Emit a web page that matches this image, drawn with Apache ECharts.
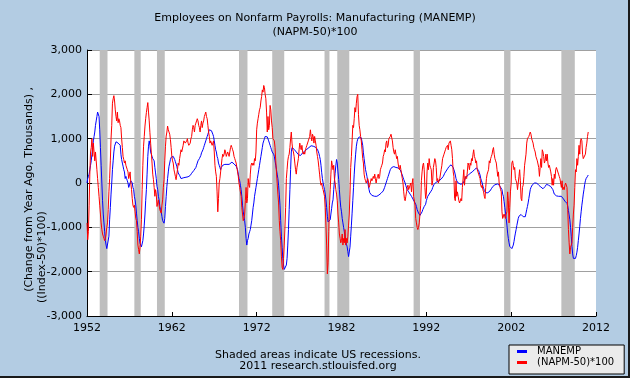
<!DOCTYPE html>
<html>
<head>
<meta charset="utf-8">
<script src="https://cdn.jsdelivr.net/npm/echarts@6/dist/echarts.min.js"></script>
<style>
html,body{margin:0;padding:0;background:#B3CCE3;}
#chart{width:630px;height:378px;}
</style>
</head>
<body>
<div id="chart"></div>
<script>
// ---- DATA ----
var startYear = 1952;
var xTickLabels = ['1952','1962','1972','1982','1992','2002','2012'];
var seriesNames = ['MANEMP', '(NAPM-50)*100'];

// MANEMP: change from year ago, thousands (monthly from Jan 1952)
var manemp = [
 0,100,150,200,300,400,500,650,800,950,1050,1150,
 1300,1400,1500,1600,1620,1500,1200,800,400,0,-400,-700,
 -900,-1100,-1300,-1400,-1480,-1500,-1450,-1200,-830,-550,-250,0,
 300,500,700,830,880,930,950,920,900,900,880,850,
 650,530,450,380,300,250,100,150,100,50,0,-100,
 -100,0,50,75,0,-100,-150,-300,-380,-500,-680,-850,
 -1000,-1100,-1250,-1360,-1400,-1440,-1400,-1300,-1150,-950,-700,-400,
 -150,200,600,830,950,850,700,650,600,550,530,500,
 350,227,100,-75,-150,-300,-380,-530,-600,-650,-756,-850,
 -880,-907,-800,-530,-300,-75,100,250,378,450,530,580,
 605,620,600,560,530,480,430,380,300,227,200,170,
 150,100,100,100,100,120,150,150,130,120,130,140,
 130,150,170,200,220,250,250,280,250,300,350,400,
 450,500,520,550,580,620,680,720,750,800,850,900,
 950,1000,1050,1100,1150,1200,1230,1200,1180,1150,1100,1050,
 950,850,750,700,600,550,450,400,350,300,350,350,
 400,420,400,420,430,400,420,410,400,420,430,450,
 450,470,460,450,430,420,400,380,360,300,200,100,
 50,-50,-150,-300,-500,-650,-750,-850,-1000,-1250,-1400,-1300,
 -1250,-1150,-1100,-1050,-950,-850,-700,-550,-450,-300,-200,-100,
 0,100,200,300,400,500,600,700,800,900,950,1000,
 1050,1080,1050,1040,1000,950,900,850,800,750,700,680,
 650,600,500,400,300,200,100,-50,-250,-500,-850,-1200,
 -1450,-1700,-1850,-1950,-1970,-1950,-1850,-1700,-1400,-1050,-600,-150,
 300,700,800,800,780,760,740,720,700,680,660,640,
 620,600,620,640,660,680,690,700,720,740,750,760,
 770,790,800,820,830,840,840,840,830,830,820,810,
 800,790,760,720,670,600,530,400,230,100,0,-80,
 -150,-250,-380,-550,-750,-880,-910,-900,-830,-700,-580,-450,
 -380,-150,50,220,400,530,450,250,80,-150,-380,-550,
 -650,-800,-900,-1000,-1100,-1200,-1300,-1380,-1440,-1550,-1660,-1620,
 -1450,-1200,-950,-680,-400,-100,200,450,650,830,930,990,
 1020,1040,1050,1040,1020,980,850,680,550,420,300,230,
 150,50,-70,-150,-220,-240,-260,-280,-290,-300,-300,-300,
 -300,-310,-300,-290,-280,-270,-260,-240,-230,-220,-200,-180,
 -150,-100,-50,0,50,100,150,200,250,300,330,350,
 360,360,370,360,360,350,360,350,340,340,330,300,
 270,220,180,130,80,40,0,-60,-100,-150,-180,-200,
 -220,-250,-270,-300,-330,-360,-390,-420,-450,-480,-530,-600,
 -600,-680,-720,-730,-720,-700,-650,-600,-560,-530,-500,-480,
 -400,-350,-300,-270,-250,-220,-200,-180,-150,-100,-60,-30,
 -20,0,20,30,40,40,50,60,70,90,100,120,
 150,180,220,250,270,300,320,350,370,390,400,410,
 420,400,350,300,250,180,100,50,20,0,-20,-40,
 -40,-30,-20,-10,0,30,60,100,140,150,160,170,
 180,200,220,230,240,250,260,280,300,320,330,340,
 340,320,280,230,180,100,50,0,-70,-120,-170,-200,
 -220,-230,-230,-220,-210,-190,-180,-160,-130,-100,-80,-70,
 -60,-40,-20,0,0,-20,-40,-60,-70,-80,-110,-150,
 -250,-300,-420,-550,-680,-800,-950,-1130,-1250,-1350,-1430,-1460,
 -1470,-1480,-1450,-1400,-1320,-1220,-1130,-1050,-960,-880,-800,-750,
 -730,-720,-710,-715,-730,-760,-780,-790,-760,-680,-600,-530,
 -450,-350,-250,-150,-100,-60,-40,-20,-15,0,10,10,
 0,-10,-30,-50,-60,-70,-90,-100,-120,-130,-120,-110,
 -80,-50,-30,-30,-40,-50,-60,-70,-80,-90,-120,-150,
 -200,-250,-270,-280,-290,-300,-300,-300,-300,-300,-300,-300,
 -300,-330,-360,-390,-410,-430,-450,-460,-520,-620,-720,-830,
 -1000,-1200,-1430,-1600,-1700,-1740,-1740,-1700,-1640,-1560,-1450,-1300,
 -1150,-980,-800,-650,-500,-380,-250,-150,-30,50,100,130,
 150,180
];

// (NAPM-50)*100 (monthly from Jan 1952)
var napm = [
 -900,-1280,-1100,-500,200,700,800,1000,600,900,700,500,
 700,500,300,100,-100,-300,-500,-700,-900,-1050,-1150,-1200,
 -1250,-1300,-1250,-1150,-1000,-900,-600,-200,100,500,1000,1300,
 1800,1900,1970,1850,1650,1500,1400,1600,1360,1450,1400,1300,
 1250,1000,800,600,530,450,500,400,380,300,250,100,
 75,250,0,-150,-350,-500,-550,-500,-650,-800,-850,-1100,
 -1400,-1500,-1600,-1450,-1200,-830,-150,400,830,1050,1285,1450,
 1588,1700,1814,1600,1400,1134,900,680,450,200,75,-100,
 -300,-150,-250,-530,-450,-380,-500,-605,-650,-680,-500,-380,
 -100,75,500,830,1058,1150,1285,1200,1210,1100,980,800,
 605,500,450,300,227,150,75,100,300,450,400,550,
 650,750,700,680,850,950,980,900,900,950,1000,900,
 850,820,900,1000,1050,1200,1300,1250,1150,1300,1350,1400,
 1450,1400,1300,1250,1150,1300,1400,1250,1350,1400,1500,1550,
 1600,1500,1450,1300,1150,1050,900,950,950,850,900,950,
 700,400,250,150,-200,-650,-350,0,100,250,400,550,
 650,600,650,750,700,600,650,700,650,600,700,800,
 850,800,750,700,600,550,500,450,350,250,150,0,
 -100,-200,-300,-550,-700,-850,-800,-700,-400,-100,-450,-350,
 100,-50,-100,200,400,450,400,450,400,550,500,700,
 1200,1350,1450,1550,1650,1700,1850,1950,2100,2050,2200,2150,
 2000,1900,1600,1150,1500,1200,1300,1750,1650,1400,1250,1000,
 1000,950,800,500,250,0,-250,-450,-850,-1100,-1300,-1650,
 -1900,-1950,-1700,-1400,-1000,-550,100,300,500,600,650,800,
 1000,1150,900,750,700,600,450,300,200,350,450,550,
 750,900,800,750,850,700,650,700,650,750,800,850,
 850,950,1000,1050,1200,1050,950,1100,1050,900,1050,950,
 850,700,600,500,350,200,50,-50,0,-100,-150,-150,
 -300,-550,-950,-1400,-2050,-1800,-1100,-500,-150,200,500,400,
 300,400,100,0,-150,-250,-400,-700,-900,-1150,-1250,-1350,
 -1300,-1150,-1400,-1250,-1350,-1050,-1400,-1250,-1350,-1200,-950,-700,
 -250,350,600,950,1300,1250,1450,1700,1600,1800,1950,2000,
 1550,1300,1200,1050,950,750,550,450,200,100,50,0,
 50,100,50,-100,-50,-50,100,50,100,150,100,200,
 100,0,100,150,200,100,150,300,350,400,450,600,
 650,750,700,900,950,800,850,1000,1000,1050,1100,1100,
 950,800,700,650,750,650,550,600,450,350,300,400,
 300,200,100,0,-200,-350,-400,-300,-200,-100,-50,-150,
 -150,-50,0,-200,0,100,-300,-300,-500,-800,-900,-1000,
 -1050,-1000,-900,-700,-500,50,250,400,450,300,-100,-350,
 -250,250,450,300,550,400,350,300,-50,50,350,450,
 550,500,350,50,100,0,50,100,100,300,400,550,
 550,650,700,750,800,800,850,750,900,900,950,850,
 750,550,250,150,-350,-400,50,-300,-200,-300,-400,-450,
 -450,-350,-400,-100,-100,300,-50,150,150,100,250,450,
 400,300,450,400,550,500,650,750,600,550,450,500,
 300,250,200,150,100,-50,-100,-50,-150,-200,-300,-350,
 -100,100,200,250,300,500,450,550,600,650,750,800,
 650,550,500,450,300,150,250,0,0,-150,-200,-650,
 -800,-800,-700,-700,-800,-700,-650,-200,-400,-900,-550,-200,
 0,450,500,400,300,350,100,50,0,-150,-150,150,
 300,50,-350,-400,-100,-50,150,400,400,650,900,1000,
 1000,1050,1100,1150,1100,1000,950,900,800,750,700,600,
 600,500,500,350,150,350,550,350,750,700,600,450,
 500,650,500,650,450,350,400,400,250,150,-50,100,
 -50,200,100,300,350,350,350,200,150,100,0,-100,
 50,-150,-100,-150,-50,0,0,-100,-600,-1050,-1350,-1600,
 -1450,-1450,-1350,-1000,-700,-500,-100,300,250,550,400,600,
 850,650,950,1000,950,650,550,550,550,650,800,900,
 1050,1150
];

// NBER recessions [start 'YYYY-MM', end 'YYYY-MM']
var recessions = [
 ['1953-07','1954-05'], ['1957-08','1958-04'], ['1960-04','1961-02'],
 ['1969-12','1970-11'], ['1973-11','1975-03'], ['1980-01','1980-07'],
 ['1981-07','1982-11'], ['1990-07','1991-03'], ['2001-03','2001-11'],
 ['2007-12','2009-06']
];

// ---- BUILD ----
function toPairs(arr) {
  return arr.map(function (v, i) { return [startYear + i / 12, v]; });
}
function ym(s, endOfMonth) {
  var p = s.split('-');
  return +p[0] + (+p[1] - 1 + (endOfMonth ? 1 : 0)) / 12;
}
var recAreas = recessions.map(function (r) {
  return [{ xAxis: ym(r[0], false) }, { xAxis: ym(r[1], true) }];
});

var FONT = 'DejaVu Sans';
var chart = echarts.init(document.getElementById('chart'), null, { renderer: 'canvas' });
chart.setOption({
  backgroundColor: '#B3CCE3',
  animation: false,
  title: {
    text: 'Employees on Nonfarm Payrolls: Manufacturing (MANEMP)\n(NAPM-50)*100',
    left: 'center', top: 6,
    textStyle: { fontFamily: FONT, fontSize: 11, fontWeight: 'normal', color: '#000', lineHeight: 14 }
  },
  legend: {
    data: seriesNames,
    orient: 'vertical', left: 509, top: 345,
    backgroundColor: '#EBEBEB', borderColor: '#000', borderWidth: 1, borderRadius: 0,
    padding: [1, 10, 6, 8], itemGap: 0, itemWidth: 10, itemHeight: 3, icon: 'rect',
    textStyle: { fontFamily: FONT, fontSize: 10, color: '#000', lineHeight: 11, padding: [0, 0, 0, 5] }
  },
  grid: { left: 87, right: 34, top: 50, bottom: 62, containLabel: false,
    show: true, backgroundColor: '#FFFFFF', borderWidth: 0 },
  xAxis: {
    type: 'value', min: 1952, max: 2012, interval: 10,
    axisLine: { onZero: false, lineStyle: { color: '#000', width: 1 } },
    axisTick: { inside: true, length: 4, lineStyle: { color: '#000' } },
    axisLabel: {
      fontFamily: FONT, fontSize: 11, color: '#000', margin: 7,
      formatter: function (v) { return xTickLabels[Math.round((v - 1952) / 10)] || String(v); }
    },
    splitLine: { show: false }
  },
  yAxis: {
    type: 'value', min: -3000, max: 3000, interval: 1000,
    axisLine: { show: true, lineStyle: { color: '#000', width: 1 } },
    axisTick: { show: true, inside: true, length: 5, lineStyle: { color: '#000' } },
    axisLabel: { fontFamily: FONT, fontSize: 11, color: '#000', margin: 5 },
    splitLine: { show: true, lineStyle: { color: '#A0A0A0', width: 1 } }
  },
  graphic: [
    { type: 'text', left: 24, top: 87, rotation: Math.PI / 2,
      style: { text: '(Change from Year Ago, Thousands) ,', font: '11px "DejaVu Sans"', fill: '#000' } },
    { type: 'text', x: 37, y: 303, rotation: Math.PI / 2,
      style: { text: '((Index-50)*100)', font: '11px "DejaVu Sans"', fill: '#000', textAlign: 'left', textVerticalAlign: 'top' } },
    { type: 'text', x: 318, y: 350,
      style: { text: 'Shaded areas indicate US recessions.\n2011 research.stlouisfed.org', font: '11px "DejaVu Sans"', fill: '#000', textAlign: 'center', lineHeight: 11 } },
    { type: 'rect', shape: { x: 628, y: 0, width: 2, height: 378 }, style: { fill: '#1A1A1A' }, silent: true },
    { type: 'rect', shape: { x: 0, y: 376, width: 630, height: 2 }, style: { fill: '#1A1A1A' }, silent: true }
  ],
  series: [
    { name: 'recessions', type: 'line', data: [], z: 1, silent: true,
      markArea: { silent: true, itemStyle: { color: '#BEBEBE' }, data: recAreas } },
    { name: seriesNames[0], type: 'line', data: toPairs(manemp), showSymbol: false, symbol: 'none', z: 3,
      color: '#0000FF', lineStyle: { color: '#0000FF', width: 1 } },
    { name: seriesNames[1], type: 'line', data: toPairs(napm), showSymbol: false, symbol: 'none', z: 4,
      color: '#FF0000', lineStyle: { color: '#FF0000', width: 1 } }
  ]
});
</script>
</body>
</html>
